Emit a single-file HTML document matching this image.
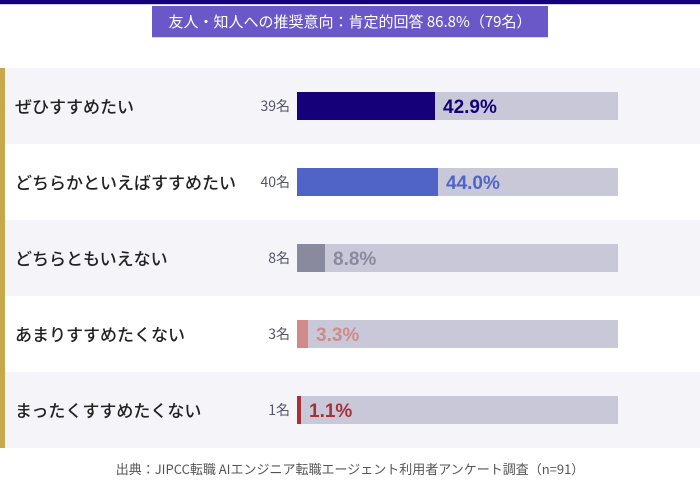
<!DOCTYPE html>
<html><head><meta charset="utf-8">
<style>
*{margin:0;padding:0;box-sizing:border-box}
body{width:700px;height:498px;background:#fff;position:relative;overflow:hidden;font-family:"Liberation Sans","Noto Sans CJK JP",sans-serif}
.abs{position:absolute}
.topbar{left:0;top:0;width:700px;height:4px;background:#14007a}
.topline{left:0;top:4px;width:700px;height:1px;background:#d0cce8}
.title{left:152px;top:6px;width:396px;height:32px;background:#6a58c8;color:#fff;font-size:15px;line-height:32px;text-align:center;font-family:"Noto Sans CJK JP",sans-serif;border-bottom:1px solid #d8d4ee}
.row{left:0;width:700px;height:76px}
.gold{left:0;top:68px;width:5px;height:380px;background:#c9a84c}
.lab{left:15px;width:260px;height:76px;line-height:76px;font-size:17px;color:#222;font-family:"Noto Sans CJK JP",sans-serif;font-weight:500}
.cnt{left:240px;width:50px;text-align:right;height:28px;line-height:28px;font-size:14px;color:#555566;font-family:"Noto Sans CJK JP",sans-serif}
.track{left:297px;width:321px;height:28px;background:#c8c8d8}
.fill{left:297px;height:28px}
.pct{height:28px;line-height:32px;font-size:19px;font-weight:bold}
.foot{left:0;top:458px;width:700px;text-align:center;font-size:13px;color:#555;line-height:22px;font-family:"Noto Sans CJK JP",sans-serif}
</style></head><body>
<div class="abs topbar"></div>
<div class="abs topline"></div>
<div class="abs title">友人・知人への推奨意向：肯定的回答 86.8%（79名）</div>

<div class="abs row" style="top:68px;background:#f4f4f9"></div>
<div class="abs row" style="top:144px;background:#fff"></div>
<div class="abs row" style="top:220px;background:#f4f4f9"></div>
<div class="abs row" style="top:296px;background:#fff"></div>
<div class="abs row" style="top:372px;background:#f4f4f9"></div>
<div class="abs gold"></div>

<div class="abs lab" style="top:68px">ぜひすすめたい</div>
<div class="abs lab" style="top:144px">どちらかといえばすすめたい</div>
<div class="abs lab" style="top:220px">どちらともいえない</div>
<div class="abs lab" style="top:296px">あまりすすめたくない</div>
<div class="abs lab" style="top:372px">まったくすすめたくない</div>

<div class="abs cnt" style="top:92px">39名</div>
<div class="abs cnt" style="top:168px">40名</div>
<div class="abs cnt" style="top:244px">8名</div>
<div class="abs cnt" style="top:320px">3名</div>
<div class="abs cnt" style="top:396px">1名</div>

<div class="abs track" style="top:92px"></div>
<div class="abs track" style="top:168px"></div>
<div class="abs track" style="top:244px"></div>
<div class="abs track" style="top:320px"></div>
<div class="abs track" style="top:396px"></div>

<div class="abs fill" style="top:92px;width:138px;background:#150079"></div>
<div class="abs fill" style="top:168px;width:141px;background:#5064c8"></div>
<div class="abs fill" style="top:244px;width:28px;background:#8a8a9e"></div>
<div class="abs fill" style="top:320px;width:11px;background:#d08a88"></div>
<div class="abs fill" style="top:396px;width:4px;background:#a83038"></div>

<div class="abs pct" style="top:92px;left:443px;color:#150079">42.9%</div>
<div class="abs pct" style="top:168px;left:446px;color:#5064c8">44.0%</div>
<div class="abs pct" style="top:244px;left:333px;color:#8a8a9e">8.8%</div>
<div class="abs pct" style="top:320px;left:316px;color:#d08a88">3.3%</div>
<div class="abs pct" style="top:396px;left:309px;color:#a83038">1.1%</div>

<div class="abs foot">出典：JIPCC転職 AIエンジニア転職エージェント利用者アンケート調査（n=91）</div>
</body></html>
